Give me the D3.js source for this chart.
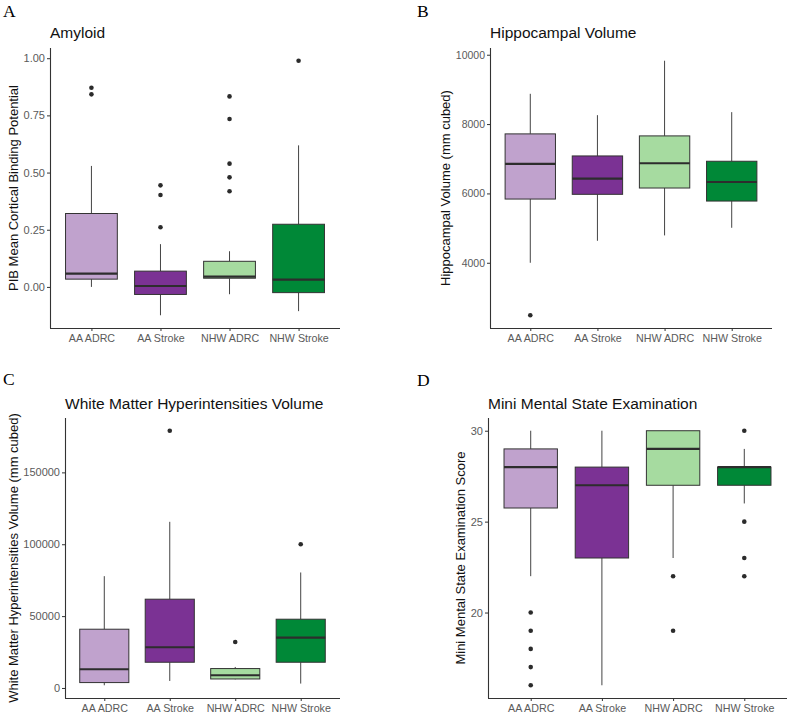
<!DOCTYPE html>
<html>
<head>
<meta charset="utf-8">
<script src="https://cdn.jsdelivr.net/npm/d3@7"></script>
<style>
  html, body { margin: 0; padding: 0; background: #fff; }
  svg { display: block; }
</style>
</head>
<body>
<svg id="chart" width="789" height="714"></svg>
<script>
// ---------- DATA ----------
const categories = ["AA ADRC", "AA Stroke", "NHW ADRC", "NHW Stroke"];
const groupColors = ["#c0a2cd", "#7b3294", "#a6dba0", "#008837"];

// each row: [lower whisker, Q1, median, Q3, upper whisker]
const amyloidStats = [
  [0.000, 0.034, 0.058, 0.321, 0.529],
  [-0.124, -0.033, 0.004, 0.069, 0.187],
  [-0.032, 0.038, 0.045, 0.112, 0.156],
  [-0.106, -0.025, 0.032, 0.274, 0.619]
];
const amyloidOutliers = [
  [0.871, 0.842],
  [0.444, 0.402, 0.261],
  [0.833, 0.734, 0.539, 0.479, 0.418],
  [0.989]
];
const amyloidTicks = [0, 0.25, 0.50, 0.75, 1.00];

const hippoStats = [
  [4000, 5838, 6850, 7717, 8873],
  [4634, 5974, 6425, 7081, 8257],
  [4789, 6156, 6870, 7659, 9827],
  [5009, 5780, 6329, 6928, 8344]
];
const hippoOutliers = [[2486], [], [], []];
const hippoTicks = [4000, 6000, 8000, 10000];

const wmhStats = [
  [1880, 3760, 13020, 40880, 77790],
  [4875, 17900, 28340, 61770, 115600],
  [6000, 6270, 8840, 13510, 14620],
  [3060, 17900, 35100, 47840, 80360]
];
const wmhOutliers = [[], [178980], [32030], [100000]];
const wmhTicks = [0, 50000, 100000, 150000];

const mmseStats = [
  [22, 25.75, 28, 29, 30],
  [16, 23, 27, 28, 30],
  [23, 27, 29, 30, 30],
  [26, 27, 28, 28, 29]
];
const mmseOutliers = [
  [20, 19, 18, 17, 16],
  [],
  [22, 19],
  [30, 25, 23, 22]
];
const mmseTicks = [20, 25, 30];

const panelLetters = ["A", "B", "C", "D"];
const panelTitles = ["Amyloid", "Hippocampal Volume", "White Matter Hyperintensities Volume", "Mini Mental State Examination"];
const yTitles = ["PIB Mean Cortical Binding Potential", "Hippocampal Volume (mm cubed)",
                 "White Matter Hyperintensities Volume (mm cubed)", "Mini Mental State Examination Score"];

// ---------- LAYOUT ----------
const layout = [
  { x0: 50,  x1: 340, y0: 48,  y1: 328, letterX: 3,   letterY: 16.5, titleY: 37.5, yTitleX: 13,  tickFmt: d3.format(".2f"), tickSize: 11 },
  { x0: 490, x1: 772, y0: 48,  y1: 328, letterX: 417, letterY: 16.5, titleY: 37.5, yTitleX: 445, tickFmt: d3.format("d"),   tickSize: 10.5 },
  { x0: 65,  x1: 340, y0: 418, y1: 698, letterX: 3,   letterY: 384.5, titleY: 409, yTitleX: 13,  tickFmt: d3.format("d"),   tickSize: 11 },
  { x0: 488, x1: 787, y0: 418, y1: 698, letterX: 417, letterY: 385.5, titleY: 409, yTitleX: 460.5, tickFmt: d3.format("d"), tickSize: 11 }
];

const statsList = [amyloidStats, hippoStats, wmhStats, mmseStats];
const outlierList = [amyloidOutliers, hippoOutliers, wmhOutliers, mmseOutliers];
const tickList = [amyloidTicks, hippoTicks, wmhTicks, mmseTicks];

const svg = d3.select("#chart");
svg.append("rect").attr("width", 789).attr("height", 714).attr("fill", "#fff");

const FONT = "'Liberation Sans', Arial, Helvetica, sans-serif";

statsList.forEach((stats, p) => {
  const L = layout[p];
  const outs = outlierList[p];
  const allVals = stats.flat().concat(outs.flat());
  const lo = d3.min(allVals), hi = d3.max(allVals);
  const pad = (hi - lo) * 0.05;

  const y = d3.scaleLinear().domain([lo - pad, hi + pad]).range([L.y1, L.y0]);
  const x = d3.scalePoint().domain(categories).range([L.x0, L.x1]).padding(0.6);
  const bw = x.step() * 0.75;

  const g = svg.append("g");

  // panel letter
  g.append("text").attr("x", L.letterX).attr("y", L.letterY)
    .attr("font-family", "'Liberation Serif', 'Times New Roman', serif")
    .attr("font-size", 17.5).attr("fill", "#000").text(panelLetters[p]);

  // title
  g.append("text").attr("x", L.x0).attr("y", L.titleY)
    .attr("font-family", FONT).attr("font-size", 15.5).attr("fill", "#111")
    .text(panelTitles[p]);

  // y axis title
  g.append("text")
    .attr("transform", `translate(${L.yTitleX},${(L.y0 + L.y1) / 2}) rotate(-90)`)
    .attr("text-anchor", "middle").attr("dominant-baseline", "central")
    .attr("font-family", FONT).attr("font-size", 13).attr("fill", "#111")
    .text(yTitles[p]);

  // boxes
  categories.forEach((c, i) => {
    const [wl, q1, med, q3, wh] = stats[i];
    const cx = x(c);
    // whiskers
    g.append("line").attr("x1", cx).attr("x2", cx).attr("y1", y(q3)).attr("y2", y(wh))
      .attr("stroke", "#444").attr("stroke-width", 1);
    g.append("line").attr("x1", cx).attr("x2", cx).attr("y1", y(q1)).attr("y2", y(wl))
      .attr("stroke", "#444").attr("stroke-width", 1);
    // box
    g.append("rect").attr("x", cx - bw / 2).attr("width", bw)
      .attr("y", y(q3)).attr("height", Math.max(0, y(q1) - y(q3)))
      .attr("fill", groupColors[i]).attr("stroke", "#333").attr("stroke-width", 1);
    // median
    g.append("line").attr("x1", cx - bw / 2).attr("x2", cx + bw / 2)
      .attr("y1", y(med)).attr("y2", y(med))
      .attr("stroke", "#2d2d2d").attr("stroke-width", 2.2);
    // outliers
    outs[i].forEach(v => {
      g.append("circle").attr("cx", cx).attr("cy", y(v)).attr("r", 2.3).attr("fill", "#2b2b2b");
    });
  });

  // y axis
  const yAxis = g.append("g").attr("transform", `translate(${L.x0},0)`)
    .call(d3.axisLeft(y).tickValues(tickList[p]).tickFormat(L.tickFmt).tickSize(3).tickPadding(2));
  yAxis.select(".domain").attr("stroke", "#333").attr("stroke-width", 1.1)
    .attr("d", `M0.5,${L.y0}V${L.y1}`);
  yAxis.selectAll(".tick line").attr("stroke", "#333");
  yAxis.selectAll(".tick text").attr("fill", "#5a5a5a").attr("font-size", L.tickSize).attr("font-family", FONT);

  // x axis
  const xAxis = g.append("g").attr("transform", `translate(0,${L.y1})`)
    .call(d3.axisBottom(x).tickSize(3).tickPadding(3));
  xAxis.select(".domain").attr("stroke", "#333").attr("stroke-width", 1.1)
    .attr("d", `M${L.x0},0.5H${L.x1}`);
  xAxis.selectAll(".tick line").attr("stroke", "#333");
  xAxis.selectAll(".tick text").attr("fill", "#5a5a5a").attr("font-size", 10.7).attr("font-family", FONT);
});
</script>
</body>
</html>
